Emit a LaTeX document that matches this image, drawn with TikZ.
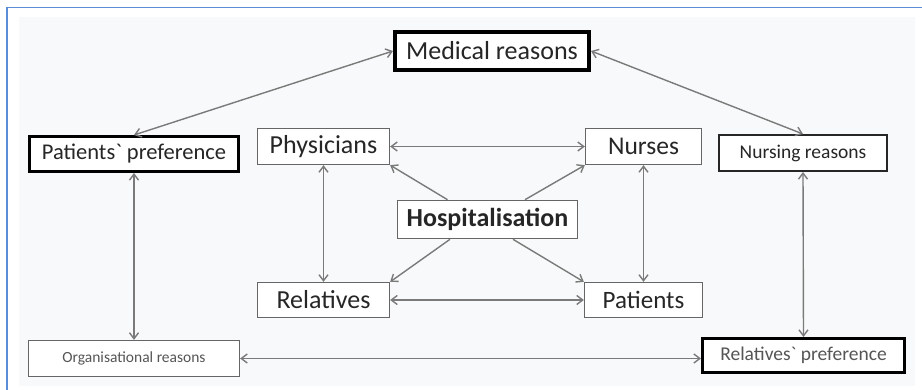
\documentclass[tikz,border=0pt]{standalone}
\usepackage{fontspec}
\setmainfont{Carlito}
\usetikzlibrary{arrows.meta}
\definecolor{frameblue}{HTML}{5B8DD6}
\definecolor{innerbg}{HTML}{F8F9FA}
\definecolor{txt}{HTML}{262626}
\definecolor{txtlight}{HTML}{555555}
\definecolor{arr}{HTML}{7A7A7A}
\definecolor{thinbox}{HTML}{666666}
\tikzset{
  box/.style={draw=thinbox, line width=1.3pt, fill=white, inner sep=0pt, text=txt, align=center},
  thickbox/.style={draw=black, line width=3pt, fill=white, inner sep=0pt, text=txt, align=center},
  medbox/.style={draw=black!85, line width=2pt, fill=white, inner sep=0pt, text=txt, align=center},
  link/.style={draw=arr, line width=1.4pt, {Straight Barb[length=6pt,width=9pt]}-{Straight Barb[length=6pt,width=9pt]}},
  oneway/.style={draw=arr, line width=1.4pt, -{Straight Barb[length=6pt,width=9pt]}}
}
\begin{document}
\begin{tikzpicture}[x=1pt,y=-1pt]
\useasboundingbox (0,0) rectangle (922,390);
\fill[white] (0,0) rectangle (922,390);
\fill[innerbg] (19,17) rectangle (915,386);
\draw[frameblue, line width=1.6pt] (7,390) -- (7,7.5) -- (922,7.5);

\node[thickbox, line width=4pt, minimum width=194pt, minimum height=38pt, font=\fontsize{26}{28}\selectfont] (med) at (492,51) {Medical reasons};
\node[thickbox, minimum width=209pt, minimum height=35pt, font=\fontsize{22.5}{24}\selectfont] (pp) at (134,154) {Patients\textasciigrave{} preference};
\node[box, minimum width=132pt, minimum height=36pt, font=\fontsize{26}{28}\selectfont] (phy) at (323.5,146.5) {Physicians};
\node[box, minimum width=116pt, minimum height=36pt, font=\fontsize{25.5}{28}\selectfont] (nur) at (643.5,146.5) {Nurses};
\node[medbox, minimum width=168pt, minimum height=36pt, font=\fontsize{19.5}{22}\selectfont] (nr) at (803,153) {Nursing reasons};
\node[box, line width=1.6pt, minimum width=180pt, minimum height=38pt, font=\bfseries\fontsize{26}{28}\selectfont] (hosp) at (487.5,219.5) {Hospitalisation};
\node[box, minimum width=132pt, minimum height=35pt, font=\fontsize{26}{28}\selectfont] (rel) at (323.5,300) {Relatives};
\node[box, minimum width=118pt, minimum height=35pt, font=\fontsize{25}{28}\selectfont] (pat) at (643.5,300) {Patients};
\node[box, minimum width=211pt, minimum height=36pt, text=txtlight, font=\fontsize{15.5}{18}\selectfont] (org) at (134,358.5) {Organisational reasons};
\node[thickbox, minimum width=202pt, minimum height=34pt, text=txtlight, font=\fontsize{19.5}{22}\selectfont] (rp) at (803.5,355.5) {Relatives\textasciigrave{} preference};

\draw[link] (med.west) -- (pp.north);
\draw[link] (med.east) -- (nr.north);
\draw[link] (pp.south) -- (org.north);
\draw[link] (nr.south) -- (rp.north);
\draw[link] (org.east) -- (org.east -| rp.west);
\draw[link] (phy.east) -- (nur.west);
\draw[link] (rel.east) -- (pat.west);
\draw[link] (phy.south) -- (rel.north);
\draw[link] (nur.south) -- (pat.north);
\draw[oneway] ([xshift=-40pt]hosp.north) -- (phy.south east);
\draw[oneway] ([xshift=37.5pt]hosp.north) -- (nur.south west);
\draw[oneway] ([xshift=-37.5pt]hosp.south) -- (rel.north east);
\draw[oneway] ([xshift=25.5pt]hosp.south) -- (pat.north west);
\end{tikzpicture}
\end{document}
